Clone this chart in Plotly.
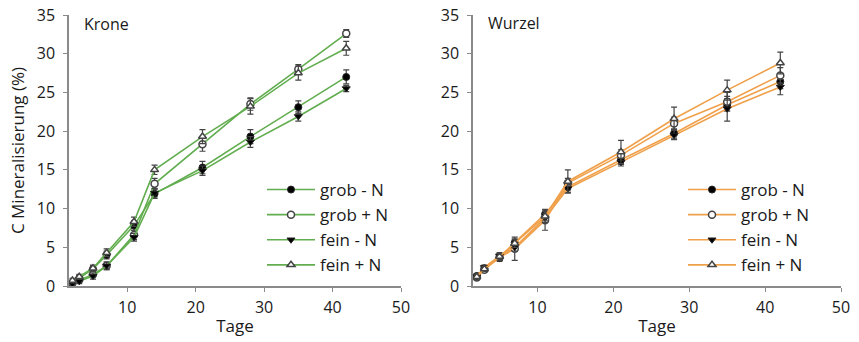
import plotly.graph_objects as go

days = [2, 3, 5, 7, 11, 14, 21, 28, 35, 42]
series_names = ["grob - N", "grob + N", "fein - N", "fein + N"]

krone = {
    "grob - N": [0.4, 1.0, 2.2, 4.0, 7.8, 11.9, 15.3, 19.3, 23.1, 27.0],
    "grob + N": [0.4, 0.8, 1.5, 2.6, 6.6, 13.2, 18.3, 23.5, 28.0, 32.6],
    "fein - N": [0.3, 0.6, 1.3, 2.6, 6.3, 12.0, 14.9, 18.6, 21.9, 25.5],
    "fein + N": [0.7, 1.2, 2.3, 4.3, 8.3, 15.0, 19.3, 23.2, 27.5, 30.7],
}
krone_err = {
    "grob - N": [0.3, 0.3, 0.4, 0.5, 0.6, 0.6, 0.8, 0.9, 0.8, 0.9],
    "grob + N": [0.3, 0.3, 0.4, 0.5, 0.6, 0.7, 0.9, 0.8, 0.6, 0.5],
    "fein - N": [0.3, 0.3, 0.4, 0.5, 0.5, 0.6, 0.6, 0.7, 0.6, 0.4],
    "fein + N": [0.3, 0.3, 0.4, 0.5, 0.6, 0.6, 0.9, 1.0, 0.9, 0.9],
}
wurzel = {
    "grob - N": [1.3, 2.3, 3.6, 5.6, 9.3, 12.8, 16.3, 19.7, 23.4, 26.4],
    "grob + N": [1.1, 2.1, 3.7, 4.8, 8.5, 13.3, 16.9, 21.0, 23.8, 27.2],
    "fein - N": [1.2, 2.4, 3.9, 5.0, 8.8, 12.6, 16.0, 19.5, 22.9, 25.7],
    "fein + N": [1.2, 2.2, 3.8, 5.5, 9.0, 13.5, 17.3, 21.6, 25.3, 28.8],
}
wurzel_err = {
    "grob - N": [0.3, 0.3, 0.4, 0.5, 0.6, 0.5, 0.6, 0.6, 0.8, 0.9],
    "grob + N": [0.3, 0.3, 0.4, 1.5, 1.3, 0.6, 0.7, 0.8, 1.2, 1.0],
    "fein - N": [0.3, 0.3, 0.4, 0.5, 0.6, 0.5, 0.5, 0.6, 1.6, 1.0],
    "fein + N": [0.3, 0.3, 0.4, 0.5, 0.6, 1.5, 1.5, 1.5, 1.3, 1.4],
}

markers = {
    "grob - N": dict(symbol="circle", color="black", line=dict(color="#222", width=1)),
    "grob + N": dict(symbol="circle", color="white", line=dict(color="#444", width=1.5)),
    "fein - N": dict(symbol="triangle-down", color="black", line=dict(color="#222", width=1)),
    "fein + N": dict(symbol="triangle-up", color="white", line=dict(color="#444", width=1.5)),
}

GREEN = "#62ad4f"
ORANGE = "#f0a04a"
FONT = "Open Sans"

fig = go.Figure()

for panel, data, err, color, xa, ya, leg in [
    ("Krone", krone, krone_err, GREEN, "x", "y", "legend"),
    ("Wurzel", wurzel, wurzel_err, ORANGE, "x2", "y2", "legend2"),
]:
    for name in series_names:
        m = dict(markers[name])
        m["size"] = 7
        fig.add_trace(go.Scatter(
            x=days, y=data[name], name=name, mode="lines+markers",
            xaxis=xa, yaxis=ya, legend=leg,
            line=dict(color=color, width=1.6),
            marker=m, cliponaxis=False,
            error_y=dict(type="data", array=err[name], color="#444", thickness=1.2, width=3),
        ))

axis_common = dict(
    showgrid=False, zeroline=False, showline=True, linecolor="#8a8a8a", linewidth=1.5,
    ticks="outside", ticklen=4, tickcolor="#8a8a8a", tickwidth=1.2, automargin=False,
    tickfont=dict(family=FONT, size=16, color="#1a1a1a"),
)

fig.update_layout(
    width=859, height=342,
    margin=dict(l=0, r=0, t=0, b=0),
    paper_bgcolor="white", plot_bgcolor="white",
    font=dict(family=FONT, color="#1a1a1a"),
    xaxis=dict(domain=[69 / 859, 401 / 859], range=[1.5, 50], tickvals=[10, 20, 30, 40, 50],
               anchor="y", ticklabelstandoff=2,
               title=dict(text="Tage", font=dict(size=17), standoff=3), **axis_common),
    yaxis=dict(domain=[1 - 286 / 342, 1 - 15 / 342], range=[0, 35], tickvals=list(range(0, 36, 5)),
               anchor="x", ticklabelstandoff=5,
               title=dict(text="C Mineralisierung (%)", font=dict(size=17), standoff=8),
               **axis_common),
    xaxis2=dict(domain=[473 / 859, 841 / 859], range=[1.5, 50], tickvals=[10, 20, 30, 40, 50],
                anchor="y2", ticklabelstandoff=2,
                title=dict(text="Tage", font=dict(size=17), standoff=3), **axis_common),
    yaxis2=dict(domain=[1 - 286 / 342, 1 - 15 / 342], range=[0, 35], tickvals=list(range(0, 36, 5)),
                anchor="x2", ticklabelstandoff=5, **axis_common),
    legend=dict(x=262 / 859, y=1 - 172 / 342, xanchor="left", yanchor="top",
                font=dict(family=FONT, size=17), itemwidth=48, tracegroupgap=0,
                bgcolor="rgba(0,0,0,0)"),
    legend2=dict(x=683 / 859, y=1 - 172 / 342, xanchor="left", yanchor="top",
                 font=dict(family=FONT, size=17), itemwidth=48, tracegroupgap=0,
                 bgcolor="rgba(0,0,0,0)"),
    annotations=[
        dict(text="Krone", x=82 / 859, y=1 - 24 / 342, xref="paper", yref="paper",
             xanchor="left", yanchor="middle", showarrow=False, font=dict(family=FONT, size=16)),
        dict(text="Wurzel", x=486 / 859, y=1 - 23 / 342, xref="paper", yref="paper",
             xanchor="left", yanchor="middle", showarrow=False, font=dict(family=FONT, size=16)),
    ],
)

fig.write_html("out.html")
